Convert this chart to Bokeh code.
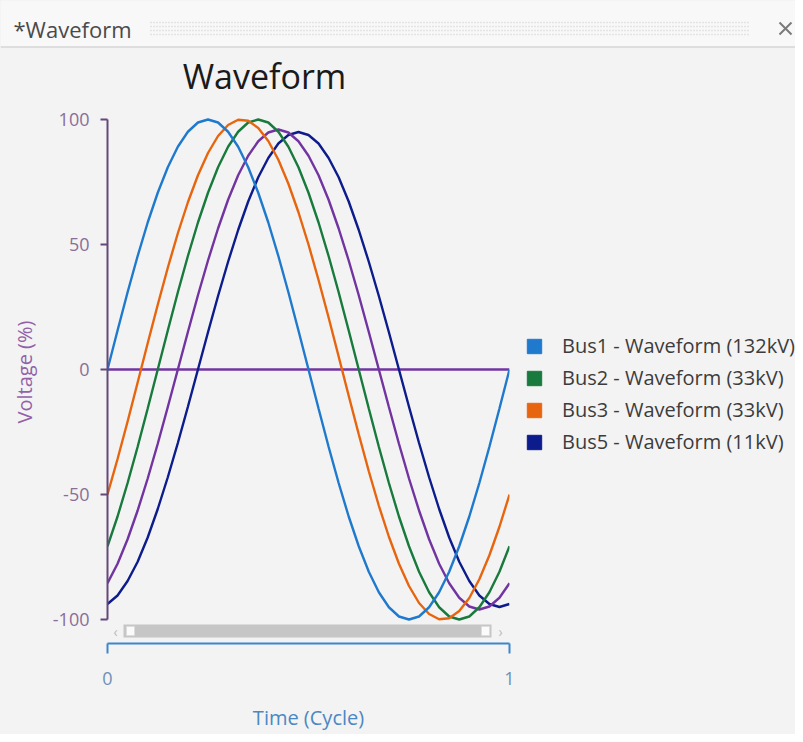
from bokeh.plotting import figure
from bokeh.models import Range1d, FixedTicker, Legend, LegendItem, PrintfTickFormatter
from bokeh.layouts import row
from bokeh.core.properties import value
from bokeh.embed import file_html
from bokeh.resources import INLINE

# ---------------- data ----------------
TIME = [0.0, 0.025, 0.05, 0.075, 0.1, 0.125, 0.15, 0.175, 0.2, 0.225,
        0.25, 0.275, 0.3, 0.325, 0.35, 0.375, 0.4, 0.425, 0.45, 0.475,
        0.5, 0.525, 0.55, 0.575, 0.6, 0.625, 0.65, 0.675, 0.7, 0.725,
        0.75, 0.775, 0.8, 0.825, 0.85, 0.875, 0.9, 0.925, 0.95, 0.975, 1.0]

BUS1 = [0, 15.6, 30.9, 45.4, 58.8, 70.7, 80.9, 89.1, 95.1, 98.8,
        100, 98.8, 95.1, 89.1, 80.9, 70.7, 58.8, 45.4, 30.9, 15.6,
        0, -15.6, -30.9, -45.4, -58.8, -70.7, -80.9, -89.1, -95.1, -98.8,
        -100, -98.8, -95.1, -89.1, -80.9, -70.7, -58.8, -45.4, -30.9, -15.6, 0]

BUS2 = [-70.7, -58.8, -45.4, -30.9, -15.6, 0, 15.6, 30.9, 45.4, 58.8,
        70.7, 80.9, 89.1, 95.1, 98.8, 100, 98.8, 95.1, 89.1, 80.9,
        70.7, 58.8, 45.4, 30.9, 15.6, 0, -15.6, -30.9, -45.4, -58.8,
        -70.7, -80.9, -89.1, -95.1, -98.8, -100, -98.8, -95.1, -89.1, -80.9, -70.7]

BUS3 = [-50, -35.8, -20.8, -5.2, 10.5, 25.9, 40.7, 54.5, 66.9, 77.7,
        86.6, 93.4, 97.8, 99.9, 99.5, 96.6, 91.4, 83.9, 74.3, 62.9,
        50, 35.8, 20.8, 5.2, -10.5, -25.9, -40.7, -54.5, -66.9, -77.7,
        -86.6, -93.4, -97.8, -99.9, -99.5, -96.6, -91.4, -83.9, -74.3, -62.9, -50]

BUS4 = [-85.5, -77.7, -67.9, -56.4, -43.6, -29.7, -15.0, 0, 15.0, 29.7,
        43.6, 56.4, 67.9, 77.7, 85.5, 91.3, 94.8, 96, 94.8, 91.3,
        85.5, 77.7, 67.9, 56.4, 43.6, 29.7, 15.0, 0, -15.0, -29.7,
        -43.6, -56.4, -67.9, -77.7, -85.5, -91.3, -94.8, -96, -94.8, -91.3, -85.5]

BUS5 = [-93.8, -90.4, -84.6, -76.9, -67.2, -55.8, -43.1, -29.4, -14.9, 0,
        14.9, 29.4, 43.1, 55.8, 67.2, 76.9, 84.6, 90.4, 93.8, 95,
        93.8, 90.4, 84.6, 76.9, 67.2, 55.8, 43.1, 29.4, 14.9, 0,
        -14.9, -29.4, -43.1, -55.8, -67.2, -76.9, -84.6, -90.4, -93.8, -95, -93.8]

ZERO_T = [0.0, 1.0]
ZERO_V = [0.0, 0.0]

LEGEND_LABELS = ["Bus1 - Waveform (132kV)", "Bus2 - Waveform (33kV)",
                 "Bus3 - Waveform (33kV)", "Bus5 - Waveform (11kV)"]
Y_TICKS = [-100, -50, 0, 50, 100]
X_TICKS = [0, 1]

# ---------------- styles ----------------
FONT = "Open Sans"
C_BUS1 = "#1f7ace"
C_BUS2 = "#187a3c"
C_BUS3 = "#e8650f"
C_BUS4 = "#7234a0"
C_BUS5 = "#0c1c8c"
BG = "#f3f3f3"
W = 795
PAGE_H = 734
NAN = float("nan")

FR_L, FR_R, FR_T, FR_B = 107, 509, 100, 643       # plot frame edges, page px
X0_PX, X1_PX = 107, 509                           # data x=0 and x=1
YM100_PX = 619                                    # data y=-100
PX_PER_Y = 2.5


def dx(px):
    return (px - X0_PX) / float(X1_PX - X0_PX)


def dy(py):
    return -100 + (YM100_PX - py) / PX_PER_Y


def bare(fig, bg):
    fig.grid.visible = False
    fig.outline_line_color = None
    fig.background_fill_color = bg
    fig.border_fill_color = bg


# ---------------- header: tab bar + chart title ----------------
head = figure(width=W, height=FR_T, x_range=Range1d(0, W), y_range=Range1d(FR_T, 0),
              output_backend="svg", toolbar_location=None, min_border=0,
              x_axis_location=None, y_axis_location=None,
              styles={"background-color": BG})
bare(head, BG)
head.quad(left=[0], right=[W], top=[0], bottom=[46.5], fill_color="#f8f8f8", line_color=None)
head.text(x=[13], y=[28], text=["*Waveform"], text_font=value(FONT),
          text_font_size="22px", text_color="#4a4a4a", text_baseline="middle")
for yy in (22, 26, 30, 34):
    head.segment(x0=[150], y0=[yy], x1=[748], y1=[yy], line_color="#d0d0d0",
                 line_dash="1 2", line_width=1.3)
head.segment(x0=[779, 779], y0=[22, 34], x1=[791, 791], y1=[34, 22],
             line_color="#7a7a7a", line_width=2)
head.segment(x0=[0], y0=[46.5], x1=[W], y1=[46.5], line_color="#d6d6d6", line_width=1.5)
head.text(x=[264], y=[75], text=["Waveform"], text_font=value(FONT),
          text_font_size="34px", text_color="#1a1a1a", text_align="center",
          text_baseline="middle")

# ---------------- main chart ----------------
MAIN_H = PAGE_H - FR_T
MAIN_W = FR_R + 6
p = figure(width=MAIN_W, height=MAIN_H,
           x_range=Range1d(dx(FR_L), dx(FR_R)), y_range=Range1d(dy(FR_B), dy(FR_T)),
           min_border_left=FR_L, min_border_right=MAIN_W - FR_R, min_border_top=0,
           min_border_bottom=PAGE_H - FR_B, output_backend="svg",
           toolbar_location=None)
bare(p, BG)

lw = 2.4
p.line(ZERO_T, ZERO_V, line_color=C_BUS4, line_width=lw)
p.line(TIME, BUS5, line_color=C_BUS5, line_width=lw)
p.line(TIME, BUS4, line_color=C_BUS4, line_width=lw)
p.line(TIME, BUS2, line_color=C_BUS2, line_width=lw)
p.line(TIME, BUS3, line_color=C_BUS3, line_width=lw)
p.line(TIME, BUS1, line_color=C_BUS1, line_width=lw)

# scrollbar decoration
p.quad(left=[dx(123)], right=[dx(491)], top=[dy(624)], bottom=[dy(637)],
       fill_color="#c6c6c6", line_color=None)
p.quad(left=[dx(126), dx(481)], right=[dx(134), dx(489)], top=[dy(626), dy(626)],
       bottom=[dy(635), dy(635)], fill_color="#fbfbfb", line_color="#dddddd")
p.text(x=[dx(115), dx(500)], y=[dy(631), dy(631)], text=["‹", "›"],
       text_font=value(FONT), text_font_size="14px", text_color="#bbbbbb",
       text_align="center", text_baseline="middle")

# y axis
ya = p.yaxis[0]
ya.ticker = FixedTicker(ticks=Y_TICKS)
ya.formatter = PrintfTickFormatter(format="%d")
ya.bounds = (-100, 100)
ya.axis_line_color = "#634878"
ya.axis_line_width = 2
ya.major_tick_line_color = "#634878"
ya.major_tick_line_width = 2
ya.major_tick_out = 7
ya.major_tick_in = 0
ya.minor_tick_out = 0
ya.minor_tick_in = 0
ya.major_label_text_font = FONT
ya.major_label_text_font_size = "18px"
ya.major_label_text_color = "#8a6e98"
ya.major_label_standoff = 11
ya.axis_label = "Voltage (%)"
ya.axis_label_text_font = FONT
ya.axis_label_text_font_style = "normal"
ya.axis_label_text_font_size = "20px"
ya.axis_label_text_color = "#9262a8"
ya.axis_label_standoff = 12

# x axis
xa = p.xaxis[0]
xa.ticker = FixedTicker(ticks=X_TICKS)
xa.bounds = (0, 1)
xa.axis_line_color = "#3d86cc"
xa.axis_line_width = 2
xa.major_tick_line_color = "#3d86cc"
xa.major_tick_line_width = 2
xa.major_tick_out = 10
xa.major_tick_in = 0
xa.minor_tick_out = 0
xa.minor_tick_in = 0
xa.major_label_text_font = FONT
xa.major_label_text_font_size = "18px"
xa.major_label_text_color = "#6e90b6"
xa.major_label_standoff = 18
xa.axis_label = "Time (Cycle)"
xa.axis_label_text_font = FONT
xa.axis_label_text_font_style = "normal"
xa.axis_label_text_font_size = "20px"
xa.axis_label_text_color = "#4a88c4"
xa.axis_label_standoff = 16

# ---------------- legend panel ----------------
LEG_W = W - MAIN_W
lf = figure(width=LEG_W, height=MAIN_H, x_range=Range1d(0, 1), y_range=Range1d(0, 1),
            min_border_left=0, min_border_right=0, min_border_top=0,
            min_border_bottom=PAGE_H - FR_B, output_backend="svg",
            toolbar_location=None, x_axis_location=None, y_axis_location=None)
bare(lf, BG)
items = []
for lab, col in zip(LEGEND_LABELS, [C_BUS1, C_BUS2, C_BUS3, C_BUS5]):
    r = lf.quad(left=[NAN], right=[NAN], top=[NAN], bottom=[NAN],
                fill_color=col, line_color=col)
    items.append(LegendItem(label=lab, renderers=[r]))
leg = Legend(items=items, location=(525 - MAIN_W, FR_B - 455), glyph_width=18,
             glyph_height=18, label_height=26, spacing=5, label_standoff=19,
             padding=0, margin=0, border_line_color=None, background_fill_alpha=0,
             label_text_font=FONT, label_text_font_size="20px",
             label_text_color="#3c3c3c")
lf.add_layout(leg)

body = row(p, lf, spacing=0, styles={"background-color": BG})
open("out.html", "w").write(file_html([head, body], INLINE))
